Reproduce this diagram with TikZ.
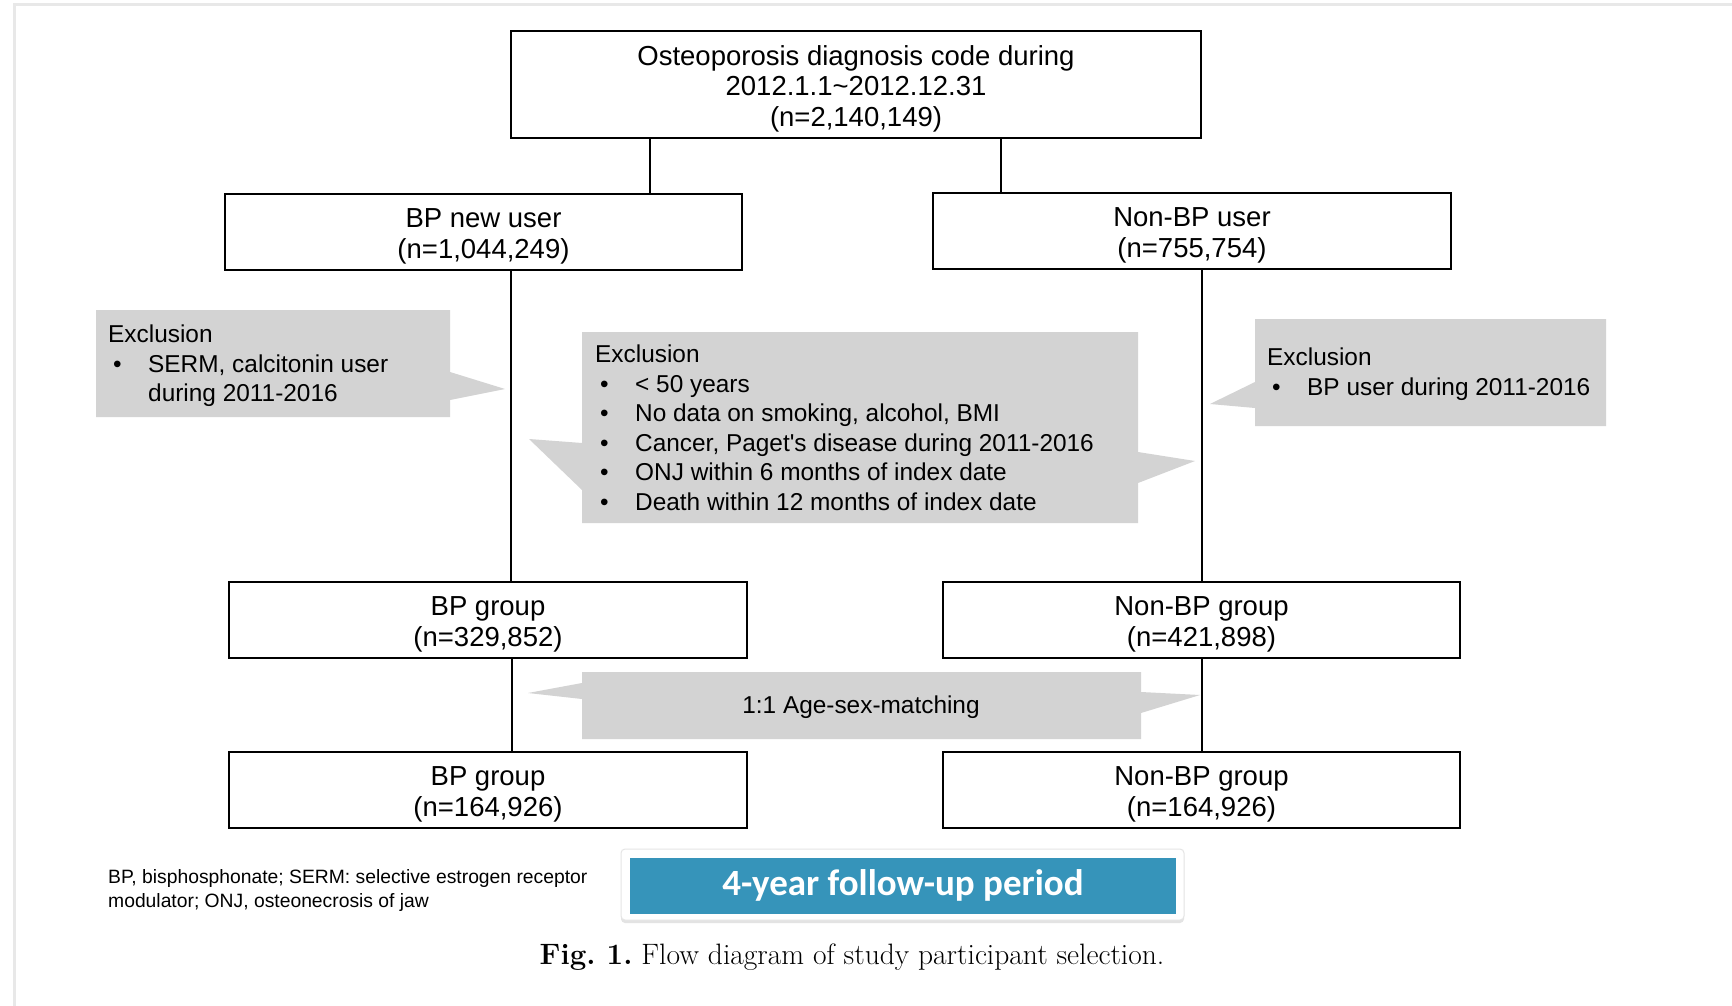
\documentclass[tikz,border=0pt]{standalone}
\usepackage{fontspec}
\newfontfamily\arial{Liberation Sans}
\newfontfamily\carlito{Carlito}
\usetikzlibrary{shadows}
\definecolor{calloutgray}{RGB}{211,211,211}
\definecolor{followblue}{RGB}{54,148,186}
\definecolor{framegray}{RGB}{232,232,232}
\newcommand{\boxfont}{\arial\fontsize{27.5}{30.5}\selectfont}
\newcommand{\callfont}{\arial\fontsize{24.4}{29.5}\selectfont}
\newcommand{\bul}{\makebox[40pt][l]{\hspace{5pt}\textbullet}}
\newcommand{\lowtext}[1]{\raisebox{-5pt}[\height][\depth]{\begin{tabular}{@{}c@{}}#1\end{tabular}}}
\tikzset{
  flowbox/.style={draw, line width=2.5pt, fill=white, align=center, inner sep=0pt, font=\boxfont},
  conn/.style={line width=2pt},
  calltext/.style={anchor=west, align=left, inner sep=0pt, font=\callfont},
}
\begin{document}
\begin{tikzpicture}[x=1pt,y=-1pt]
\useasboundingbox (0,0) rectangle (1732,1006);
\fill[white] (0,0) rectangle (1732,1006);
% page frame
\draw[framegray, line width=3pt] (14,1006) -- (14,5) -- (1732,5);

% callout shapes
\fill[calloutgray] (96,310) -- (450,310) -- (450,372) -- (505,389) -- (450,400) -- (450,417) -- (96,417) -- cycle;
\fill[calloutgray] (582,332) -- (1138,332) -- (1138,452) -- (1195,461) -- (1138,483) -- (1138,523) -- (582,523) -- (582,490) -- (529,439) -- (582,443) -- cycle;
\fill[calloutgray] (1255,319) -- (1606,319) -- (1606,426) -- (1255,426) -- (1255,408) -- (1210,404) -- (1255,382) -- cycle;
\fill[calloutgray] (582,672) -- (1141,672) -- (1141,692) -- (1200,695) -- (1141,713) -- (1141,739) -- (582,739) -- (582,699) -- (528,693) -- (582,683) -- cycle;

% boxes
\node[flowbox, minimum width=690pt, minimum height=107pt] (top) at (856,84.5)
  {\lowtext{Osteoporosis diagnosis code during\\2012.1.1\textasciitilde2012.12.31\\(n=2,140,149)}};
\node[flowbox, minimum width=517pt, minimum height=76pt] (bpnew) at (483.5,232)
  {\lowtext{BP new user\\(n=1,044,249)}};
\node[flowbox, minimum width=518pt, minimum height=76pt] (nonbp) at (1192,231)
  {\lowtext{Non-BP user\\(n=755,754)}};
\node[flowbox, minimum width=518pt, minimum height=76pt] (bpgrp) at (488,620)
  {\lowtext{BP group\\(n=329,852)}};
\node[flowbox, minimum width=517pt, minimum height=76pt] (nbpgrp) at (1201.5,620)
  {\lowtext{Non-BP group\\(n=421,898)}};
\node[flowbox, minimum width=518pt, minimum height=76pt] (bpfin) at (488,790)
  {\lowtext{BP group\\(n=164,926)}};
\node[flowbox, minimum width=517pt, minimum height=76pt] (nbpfin) at (1201.5,790)
  {\lowtext{Non-BP group\\(n=164,926)}};

% connectors
\draw[conn] (top.south -| 650,0) -- (bpnew.north -| 650,0);
\draw[conn] (top.south -| 1001,0) -- (nonbp.north -| 1001,0);
\draw[conn] (bpnew.south -| 511,0) -- (bpgrp.north -| 511,0);
\draw[conn] (bpgrp.south -| 512,0) -- (bpfin.north -| 512,0);
\draw[conn] (nonbp.south -| nbpgrp.north) -- (nbpgrp.north);
\draw[conn] (nbpgrp.south) -- (nbpfin.north);

% callout texts
\node[calltext] (ex1) at (108,366)
  {Exclusion\\\bul SERM, calcitonin user\\\hspace{40pt}during 2011-2016};
\node[calltext] (ex2) at (595,428)
  {Exclusion\\\bul {<} 50 years\\\bul No data on smoking, alcohol, BMI\\\bul Cancer, Paget's disease during 2011-2016\\\bul ONJ within 6 months of index date\\\bul Death within 12 months of index date};
\node[calltext] (ex3) at (1267,374)
  {Exclusion\\\bul BP user during 2011-2016};
\node[font=\callfont, inner sep=0pt] (match) at (861,707) {1:1 Age-sex-matching};

% footnote
\node[anchor=west, align=left, inner sep=0pt, font=\arial\fontsize{19.3}{24}\selectfont] (fn) at (108,891)
  {BP, bisphosphonate; SERM: selective estrogen receptor\\modulator; ONJ, osteonecrosis of jaw};

% follow-up box
\node[fill=white, draw=black!10, line width=1pt, rounded corners=4pt, minimum width=563pt, minimum height=71pt, inner sep=0pt,
      drop shadow={shadow xshift=0pt, shadow yshift=-3pt, opacity=0.22}] (fuframe) at (902.5,884.5) {};
\node[fill=followblue, text=white, inner sep=0pt, minimum width=546pt, minimum height=56pt,
      font=\carlito\bfseries\fontsize{37}{40}\selectfont] (fu) at (903,885.5) {4-year follow-up period};

% caption
\node[inner sep=0pt, font=\fontsize{29.5}{32}\selectfont\frenchspacing] (cap) at (852,957)
  {\textbf{Fig. 1.} Flow diagram of study participant selection.};
\end{tikzpicture}
\end{document}
